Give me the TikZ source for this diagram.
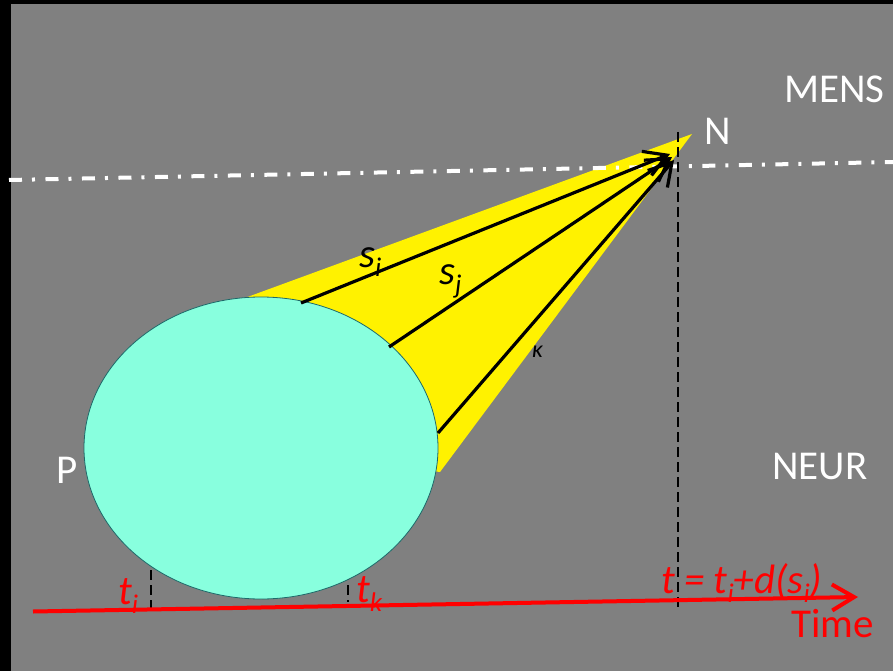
\documentclass[tikz,border=0pt]{standalone}
\usepackage{fontspec}
\setmainfont{Carlito}
\usetikzlibrary{arrows.meta,shapes.geometric}
\definecolor{bg}{RGB}{128,128,128}
\definecolor{aqua}{RGB}{136,255,222}
\definecolor{rim}{RGB}{30,105,105}
\newcommand\sbsc[1]{\raisebox{-0.22em}{\fontsize{27}{27}\selectfont #1}}
\begin{document}
\begin{tikzpicture}[x=1pt,y=-1pt,
  lbl/.style={text=white,font=\fontsize{41}{41}\selectfont,inner sep=0pt,anchor=base west},
  rlbl/.style={text=red,font=\fontsize{41}{41}\selectfont\itshape,inner sep=0pt,anchor=base west},
  klbl/.style={text=black,font=\fontsize{41}{41}\selectfont\itshape,inner sep=0pt,anchor=base west},
  ray/.style={line width=3.2pt,-{Straight Barb[length=22pt,width=26pt,line width=3.2pt]}},
  guide/.style={black,line width=2.5pt,dash pattern=on 10pt off 5pt},
  mindline/.style={white,line width=4pt,dash pattern=on 13pt off 10pt on 3pt off 10.5pt},
  timeaxis/.style={red,line width=4pt,-{Straight Barb[length=22pt,width=26pt,line width=4pt]}}
]
\useasboundingbox (0,0) rectangle (893,671);
\fill[black] (0,0) rectangle (893,671);
\fill[bg] (11,4) rectangle (893,671);

% coordinates
\coordinate (apex) at (692,134);
\coordinate (cl) at (242,299);
\coordinate (cc) at (261,448);
\coordinate (cr) at (440,472);
\coordinate (s1) at (301,303);
\coordinate (s2) at (389,347);
\coordinate (s3) at (438,433);
\coordinate (e1) at (670,154);
\coordinate (e2) at (672,157);
\coordinate (e3) at (674,160);
\coordinate (mL) at (9,180);
\coordinate (mR) at (893,162);
\coordinate (vT) at (678,132);
\coordinate (vB) at (678,610);
\coordinate (aL) at (33,611.5);
\coordinate (aR) at (858,597);
\coordinate (giT) at (151,450);
\coordinate (giB) at (151,609);
\coordinate (gkT) at (348,450);
\coordinate (gkB) at (348,602);

% time guides (partly hidden by P)
\draw[guide] (giT) -- (giB);
\draw[guide] (gkT) -- (gkB);

% cone
\fill[yellow] (apex) -- (cl) -- (cc) -- (cr) -- cycle;

% P
\node (P) [ellipse, minimum width=354pt, minimum height=302pt, inner sep=0pt,
  fill=aqua, draw=rim, line width=0.8pt] at (cc) {};

% mind/neuron border
\draw[mindline] (mL) -- (mR);
\draw[guide] (vT) -- (vB);

% rays
\draw[ray] (s1) -- (e1);
\draw[ray] (s2) -- (e2);
\draw[ray] (s3) -- (e3);

% time axis
\draw[timeaxis] (aL) -- (aR);

% labels
\node (mens) [lbl] at (784,103) {MENS};
\node (nn) [lbl] at (704,145) {N};
\node (neur) [lbl] at (772,479) {NEUR};
\node (pp) [lbl] at (56,483) {P};
\node (time) [lbl,text=red] at (791,637) {Time};
\node (si) [klbl] at (359,267) {s\sbsc{i}};
\node (sj) [klbl] at (439,284) {s\sbsc{j}};
\node (kap) [klbl,font=\fontsize{24}{24}\selectfont\itshape] at (532,357) {κ};
\node (ti) [rlbl] at (118,604) {t\sbsc{i}};
\node (tk) [rlbl] at (356,602) {t\sbsc{k}};
\node (tf) [rlbl] at (661,593) {t = t\sbsc{i}+d(s\sbsc{i})};
\end{tikzpicture}
\end{document}
